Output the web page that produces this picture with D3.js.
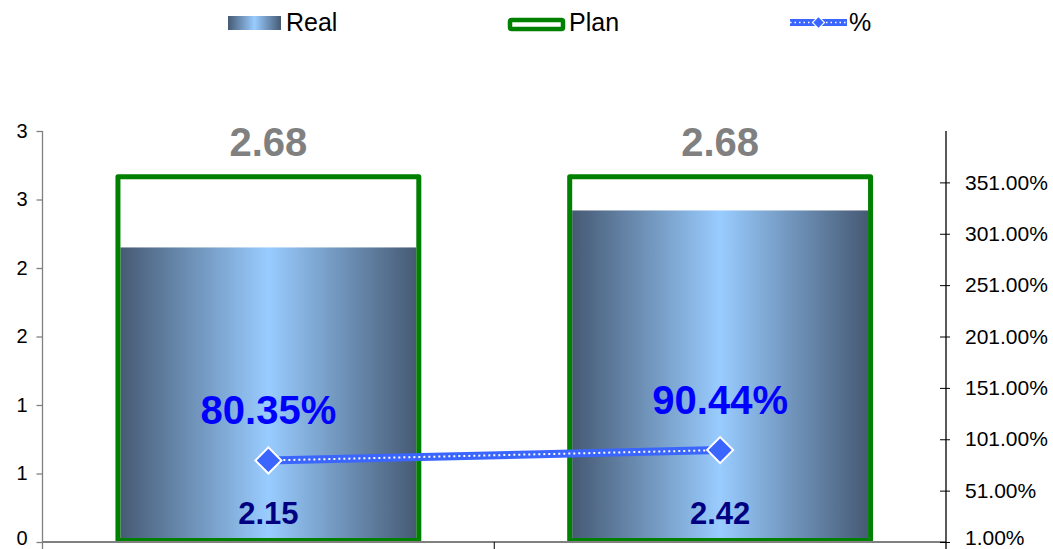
<!DOCTYPE html>
<html>
<head>
<meta charset="utf-8">
<script src="https://cdn.jsdelivr.net/npm/d3@7"></script>
<style>
  html, body { margin: 0; padding: 0; background: #fff; }
  svg { display: block; font-family: "Liberation Sans", Arial, sans-serif; }
</style>
</head>
<body>
<svg id="chart" width="1053" height="549"></svg>
<script>
// Data
const categories = ["A", "B"];
const realValues = [2.15, 2.42];
const planValues = [2.68, 2.68];
const pctValues = [80.35, 90.44];
const leftTicks = [0, 0.5, 1, 1.5, 2, 2.5, 3];
const rightTicks = [1, 51, 101, 151, 201, 251, 301, 351];
const legendLabels = ["Real", "Plan", "%"];

const svg = d3.select("#chart");
const W = 1053, H = 549;
const x0 = 42.5, x1 = 946;
const yTop = 131, yBottom = 542;

const x = d3.scaleBand().domain(categories).range([x0, x1]).paddingInner(0.334).paddingOuter(0.167);
const y = d3.scaleLinear().domain([0, 3]).range([yBottom, yTop]);
const y2 = d3.scaleLinear().domain([1, 401]).range([yBottom, yTop]);

const defs = svg.append("defs");
const grad = defs.append("linearGradient").attr("id", "realGrad")
  .attr("x1", "0%").attr("x2", "100%").attr("y1", "0%").attr("y2", "0%");
grad.append("stop").attr("offset", "0%").attr("stop-color", "#465a74");
grad.append("stop").attr("offset", "50%").attr("stop-color", "#99ccff");
grad.append("stop").attr("offset", "100%").attr("stop-color", "#465a74");

// Plan boxes (white) with Real bars inside, then the green outlines
const sw = 5;
const inset = 2;
svg.append("g").selectAll("rect").data(categories).join("rect")
  .attr("x", d => x(d))
  .attr("y", (d, i) => y(planValues[i]) + inset)
  .attr("width", x.bandwidth())
  .attr("height", (d, i) => yBottom - y(planValues[i]) - inset)
  .attr("fill", "#fff");

svg.append("g").selectAll("rect").data(categories).join("rect")
  .attr("x", d => x(d) + sw / 2)
  .attr("y", (d, i) => y(realValues[i]))
  .attr("width", x.bandwidth() - sw)
  .attr("height", (d, i) => yBottom - y(realValues[i]))
  .attr("fill", "url(#realGrad)");

svg.append("g").selectAll("rect").data(categories).join("rect")
  .attr("x", d => x(d))
  .attr("y", (d, i) => y(planValues[i]) + inset)
  .attr("width", x.bandwidth())
  .attr("height", (d, i) => yBottom - 1.5 - y(planValues[i]) - inset)
  .attr("fill", "none")
  .attr("stroke", "#008000")
  .attr("stroke-width", sw)
  .attr("stroke-linejoin", "round");

// Left axis
const gl = svg.append("g").attr("transform", `translate(${x0},0)`)
  .call(d3.axisLeft(y).tickValues(leftTicks).tickFormat(d3.format(".0f")).tickSize(6).tickPadding(9));
gl.select(".domain").attr("stroke", "#808080").attr("stroke-width", 1.3).attr("d", `M0,${yTop}V${H}`);
gl.selectAll(".tick line").attr("stroke", "#808080").attr("stroke-width", 1.3);
gl.selectAll(".tick text").attr("font-size", 20).attr("fill", "#000")
  .attr("font-family", "Liberation Sans, Arial, sans-serif");
gl.selectAll(".tick").filter(d => d === 0).select("text").attr("dy", "0.1em");

// Category axis
svg.append("line").attr("x1", x0).attr("x2", x1).attr("y1", yBottom).attr("y2", yBottom)
  .attr("stroke", "#808080").attr("stroke-width", 2);
svg.append("line").attr("x1", (x0 + x1) / 2).attr("x2", (x0 + x1) / 2).attr("y1", yBottom).attr("y2", H)
  .attr("stroke", "#000").attr("stroke-width", 1);

// Right axis
const gr = svg.append("g").attr("transform", `translate(${x1},0)`)
  .call(d3.axisRight(y2).tickValues(rightTicks).tickFormat(d => d.toFixed(2) + "%").tickSize(4).tickPadding(15));
gr.select(".domain").attr("stroke", "#000").attr("stroke-width", 1.3).attr("d", `M0,${yTop}V${H}`);
gr.selectAll(".tick line").attr("stroke", "#000").attr("x1", -6);
gr.selectAll(".tick text").attr("font-size", 21).attr("fill", "#000")
  .attr("font-family", "Liberation Sans, Arial, sans-serif");
gr.selectAll(".tick").filter(d => d === 1).select("text").attr("dy", "0.1em");

// % series: thick blue line with a row of white dots
const cx = d => x(d) + x.bandwidth() / 2;
const line = d3.line().x((d, i) => cx(categories[i])).y(d => y2(d));
svg.append("path").datum(pctValues).attr("d", line)
  .attr("fill", "none").attr("stroke", "#3a66ff").attr("stroke-width", 8);
svg.append("path").datum(pctValues).attr("d", line)
  .attr("fill", "none").attr("stroke", "#fff").attr("stroke-width", 2)
  .attr("stroke-dasharray", "2 3");

svg.append("g").selectAll("path").data(pctValues).join("path")
  .attr("transform", (d, i) => `translate(${cx(categories[i])},${y2(d)}) rotate(45)`)
  .attr("d", d3.symbol().type(d3.symbolSquare).size(340))
  .attr("fill", "#3a66ff").attr("stroke", "#fff").attr("stroke-width", 2);

// Value labels
svg.append("g").selectAll("text").data(planValues).join("text")
  .attr("x", (d, i) => cx(categories[i])).attr("y", d => y(d) - 19)
  .attr("text-anchor", "middle").attr("font-size", 40).attr("font-weight", "bold").attr("fill", "#808080")
  .text(d => d.toFixed(2));

svg.append("g").selectAll("text").data(pctValues).join("text")
  .attr("x", (d, i) => cx(categories[i])).attr("y", d => y2(d) - 36)
  .attr("text-anchor", "middle").attr("font-size", 40).attr("font-weight", "bold").attr("fill", "#0000ff")
  .text(d => d.toFixed(2) + "%");

svg.append("g").selectAll("text").data(realValues).join("text")
  .attr("x", (d, i) => cx(categories[i])).attr("y", yBottom - 18)
  .attr("text-anchor", "middle").attr("font-size", 31).attr("font-weight", "bold").attr("fill", "#000080")
  .text(d => d.toFixed(2));

// Legend
const lg = svg.append("g").attr("font-size", 25).attr("fill", "#000");
lg.append("rect").attr("x", 228).attr("y", 16).attr("width", 53).attr("height", 14).attr("fill", "url(#realGrad)");
lg.append("text").attr("x", 286).attr("y", 31).text(legendLabels[0]);

lg.append("rect").attr("x", 510).attr("y", 20).attr("width", 53).attr("height", 9).attr("rx", 1.5)
  .attr("fill", "#fff").attr("stroke", "#008000").attr("stroke-width", 4.5);
lg.append("text").attr("x", 569).attr("y", 31).text(legendLabels[1]);

lg.append("line").attr("x1", 790).attr("x2", 847).attr("y1", 22.5).attr("y2", 22.5)
  .attr("stroke", "#3a66ff").attr("stroke-width", 7);
lg.append("line").attr("x1", 790).attr("x2", 847).attr("y1", 22.5).attr("y2", 22.5)
  .attr("stroke", "#fff").attr("stroke-width", 1.5).attr("stroke-dasharray", "1.5 3");
lg.append("path").attr("transform", "translate(818.5,22.5) rotate(45)")
  .attr("d", d3.symbol().type(d3.symbolSquare).size(72))
  .attr("fill", "#3a66ff").attr("stroke", "#fff").attr("stroke-width", 1.2);
lg.append("text").attr("x", 849).attr("y", 31).text(legendLabels[2]);
</script>
</body>
</html>
